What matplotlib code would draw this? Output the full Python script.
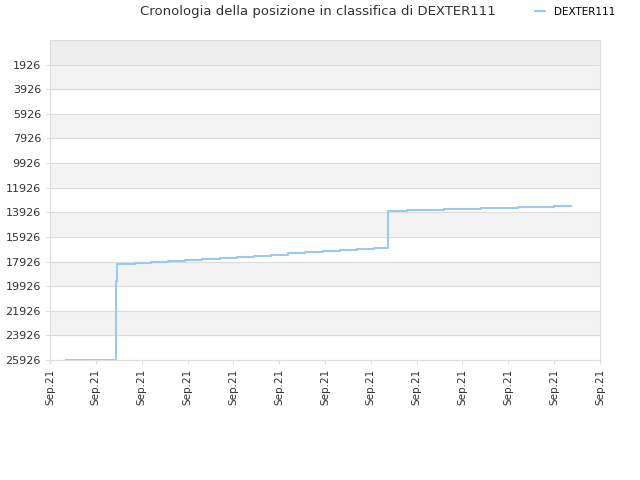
import matplotlib
matplotlib.use("Agg")
import matplotlib.pyplot as plt

# data (x in tick units, 0..12)
xs = [0.35, 1.43, 1.45, 1.47, 1.85, 2.2, 2.57, 2.95, 3.32, 3.7, 4.07, 4.45, 4.82, 5.2, 5.57, 5.95, 6.32, 6.7, 7.07, 7.33, 7.38, 7.8, 8.6, 9.4, 10.2, 11.0, 11.37]
ys = [25926, 25926, 19500, 18150, 18080, 17990, 17900, 17810, 17720, 17630, 17540, 17450, 17360, 17270, 17180, 17090, 17000, 16910, 16830, 16830, 13850, 13770, 13690, 13610, 13530, 13450, 13450]
yticks = list(range(1926, 25927, 2000))
xlabels = ["Sep.21"] * 13

fig = plt.figure(figsize=(6.4, 4.8), dpi=100)
ax = fig.add_axes([50/640, 1-360/480, 550/640, 320/480])
ax.set_ylim(25926, -74)
ax.set_xlim(0, 12)
ax.axhspan(-74, 1926, color="#eeeeee", zorder=0)
for i, lo in enumerate(yticks[:-1]):
    if i % 2 == 0:
        ax.axhspan(lo, lo + 2000, color="#f3f3f3", zorder=0)
for t in yticks:
    ax.axhline(t, color="#dddddd", lw=0.8, zorder=1)
ax.step(xs, ys, where="post", color="#99c9f5", lw=1.5, zorder=3, label="DEXTER111")
ax.set_yticks(yticks)
ax.set_yticklabels([str(t) for t in yticks], fontsize=8, color="#333333")
ax.set_xticks(range(13))
ax.set_xticklabels(xlabels, rotation=90, fontsize=7.5, color="#333333")
for s in ax.spines.values():
    s.set_color("#dddddd")
ax.tick_params(length=3, color="#dddddd")
fig.text(318/640, 1-12/480, "Cronologia della posizione in classifica di DEXTER111", ha="center", va="center", fontsize=9.5, color="#333333")
fig.legend(loc="center", bbox_to_anchor=(575/640, 1-12/480), frameon=False, fontsize=7.5, handlelength=1.0)
fig.savefig("out.png")
